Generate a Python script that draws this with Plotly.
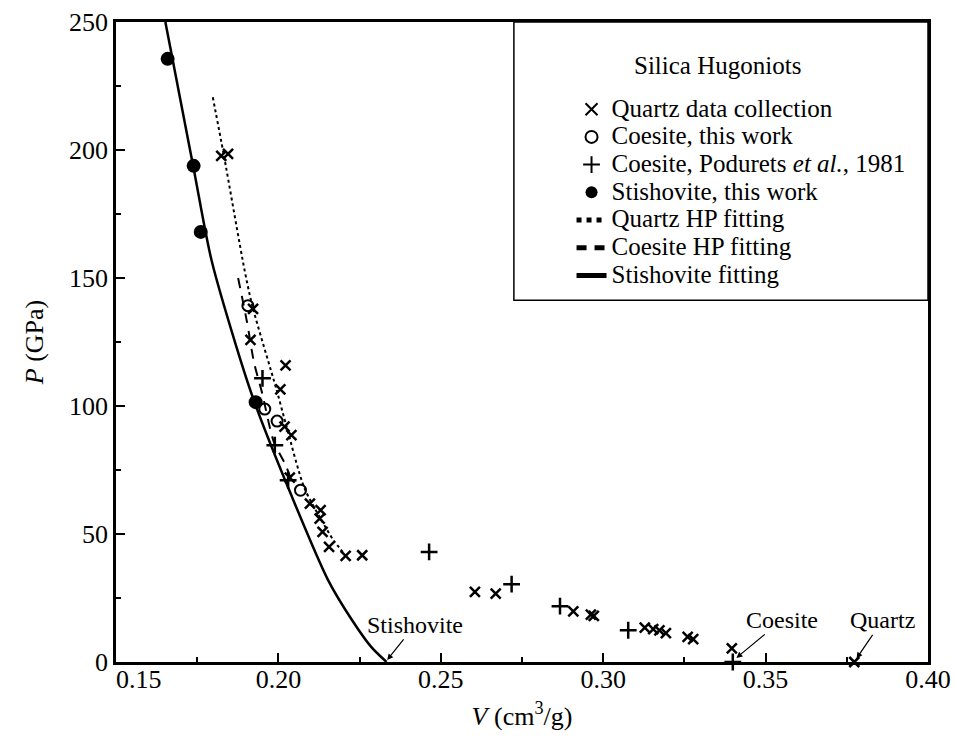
import plotly.graph_objects as go

# ---- data ----
quartz_V = [0.1824, 0.1845, 0.1922, 0.1914, 0.2022, 0.2006, 0.2019, 0.2040, 0.2035,
            0.2097, 0.2130, 0.2127, 0.2136, 0.2156, 0.2207, 0.2258, 0.2605, 0.2669,
            0.2908, 0.2962, 0.2971, 0.3128, 0.3154, 0.3173, 0.3193, 0.3260, 0.3277,
            0.3396, 0.3773]
quartz_P = [197.7, 198.5, 137.9, 125.8, 115.9, 106.5, 91.9, 88.6, 72.0,
            61.9, 59.3, 56.0, 50.8, 45.0, 41.5, 41.7, 27.4, 26.7,
            19.8, 18.5, 18.0, 13.4, 12.8, 12.4, 11.3, 9.8, 8.9,
            5.3, 0.0]

coesite_V = [0.1906, 0.1958, 0.1996, 0.2068]
coesite_P = [139.2, 98.8, 94.1, 67.1]

podurets_V = [0.1951, 0.1989, 0.2030, 0.2464, 0.2718, 0.2867, 0.3077, 0.3399]
podurets_P = [110.8, 84.7, 71.0, 43.0, 30.4, 21.8, 12.4, 0.0]

stish_V = [0.1659, 0.1739, 0.1761, 0.1930]
stish_P = [235.6, 193.8, 168.0, 101.5]

quartz_fit_V = [0.1798, 0.1832, 0.1896, 0.1920, 0.1994, 0.2025, 0.2080, 0.2130, 0.2170, 0.2205]
quartz_fit_P = [220.6, 198.0, 153.0, 139.0, 106.5, 92.0, 68.0, 56.0, 47.5, 42.0]

coesite_fit_V = [0.1876, 0.1903, 0.1925, 0.1950, 0.1986, 0.2022, 0.2040]
coesite_fit_P = [150.0, 133.0, 117.0, 105.0, 86.0, 77.0, 71.0]

stish_fit_V = [0.1652, 0.1738, 0.1794, 0.1871, 0.1925, 0.2037, 0.2153, 0.2226, 0.2285, 0.2333]
stish_fit_P = [250.0, 193.5, 157.0, 123.0, 102.0, 66.0, 32.0, 16.5, 6.0, 0.0]

x_ticks = [0.15, 0.20, 0.25, 0.30, 0.35, 0.40]
x_tick_labels = ["\u00a0" * 7 + "0.15", "0.20", "0.25", "0.30", "0.35", "0.40"]
y_ticks = [0, 50, 100, 150, 200, 250]
y_tick_labels = ["0", "50", "100", "150", "200", "250"]

FONT = "Liberation Serif, Times New Roman, serif"


def big(txt):
    return "<span style='font-size:25px'>" + txt + "</span>"


fig = go.Figure()

# fitting curves
fig.add_trace(go.Scatter(x=quartz_fit_V, y=quartz_fit_P, mode="lines", name=big("Quartz HP fitting"),
                         line=dict(color="black", width=2, dash="dot", shape="spline", smoothing=0.8),
                         legendrank=5))
fig.add_trace(go.Scatter(x=coesite_fit_V, y=coesite_fit_P, mode="lines", name=big("Coesite HP fitting"),
                         line=dict(color="black", width=2, dash="10px,8px", shape="spline", smoothing=0.8),
                         legendrank=6))
fig.add_trace(go.Scatter(x=stish_fit_V, y=stish_fit_P, mode="lines", name=big("Stishovite fitting"),
                         line=dict(color="black", width=2.5, shape="spline", smoothing=0.8),
                         legendrank=7))

# data points
fig.add_trace(go.Scatter(x=quartz_V, y=quartz_P, mode="markers", name=big("Quartz data collection"),
                         marker=dict(symbol="x-thin", size=10, line=dict(color="black", width=2.5)),
                         cliponaxis=False, legendrank=1))
fig.add_trace(go.Scatter(x=coesite_V, y=coesite_P, mode="markers", name=big("Coesite, this work"),
                         marker=dict(symbol="circle-open", size=11, color="black", line=dict(width=2)),
                         cliponaxis=False, legendrank=2))
fig.add_trace(go.Scatter(x=podurets_V, y=podurets_P, mode="markers",
                         name=big("Coesite, Podurets <i>et al.</i>, 1981"),
                         marker=dict(symbol="cross-thin", size=12, line=dict(color="black", width=2.5)),
                         cliponaxis=False, legendrank=3))
fig.add_trace(go.Scatter(x=stish_V, y=stish_P, mode="markers", name=big("Stishovite, this work"),
                         marker=dict(symbol="circle", size=14, color="black"),
                         cliponaxis=False, legendrank=4))

# legend frame and title
fig.add_shape(type="rect", xref="paper", yref="paper", x0=0.490, x1=1.0, y0=0.5654, y1=1.0,
              line=dict(color="black", width=1.5), fillcolor="white", layer="below")
fig.add_annotation(text="Silica Hugoniots", xref="paper", yref="paper", x=0.7413, y=0.9328,
                   xanchor="center", yanchor="middle",
                   showarrow=False, font=dict(family=FONT, size=25, color="black"))

# labels with arrows
for txt, vx, py, ax, ay in [("Stishovite", 0.2335, 0.8, 28, -35),
                            ("Coesite", 0.3410, 1.6, 46, -38),
                            ("Quartz", 0.3780, 1.4, 26, -38)]:
    fig.add_annotation(x=vx, y=py, text=txt, showarrow=True, ax=ax, ay=ay,
                       arrowhead=2, arrowsize=1, arrowwidth=1.2, arrowcolor="black",
                       font=dict(family=FONT, size=24, color="black"))

axis_common = dict(showgrid=False, zeroline=False, showline=True, linecolor="black", linewidth=2.5,
                   mirror=True, ticks="inside", ticklen=9, tickwidth=2, tickcolor="black",
                   tickfont=dict(family=FONT, size=26, color="black"))

fig.update_xaxes(range=[0.15, 0.40], tickvals=x_ticks, ticktext=x_tick_labels,
                 ticklabelstandoff=-8,
                 minor=dict(ticks="inside", ticklen=5, tickwidth=2, dtick=0.025, tickcolor="black"),
                 title=dict(text="<i>V</i> (cm<sup>3</sup>/g)", font=dict(family=FONT, size=26, color="black"),
                            standoff=14),
                 **axis_common)
fig.update_yaxes(range=[0, 250], tickvals=y_ticks, ticktext=y_tick_labels,
                 minor=dict(ticks="inside", ticklen=5, tickwidth=2, dtick=25, tickcolor="black"),
                 title=dict(text="<i>P</i> (GPa)", font=dict(family=FONT, size=26, color="black"),
                            standoff=18),
                 **axis_common)

fig.update_layout(
    width=955, height=751,
    margin=dict(l=116, r=27, t=22, b=89, autoexpand=False),
    plot_bgcolor="white", paper_bgcolor="white",
    font=dict(family=FONT, color="black"),
    legend=dict(x=0.561, y=0.8932, xanchor="left", yanchor="top", bgcolor="rgba(0,0,0,0)",
                borderwidth=0, font=dict(family=FONT, size=19, color="black"),
                tracegroupgap=0, itemsizing="constant", traceorder="normal"),
)

fig.write_html("out.html")
